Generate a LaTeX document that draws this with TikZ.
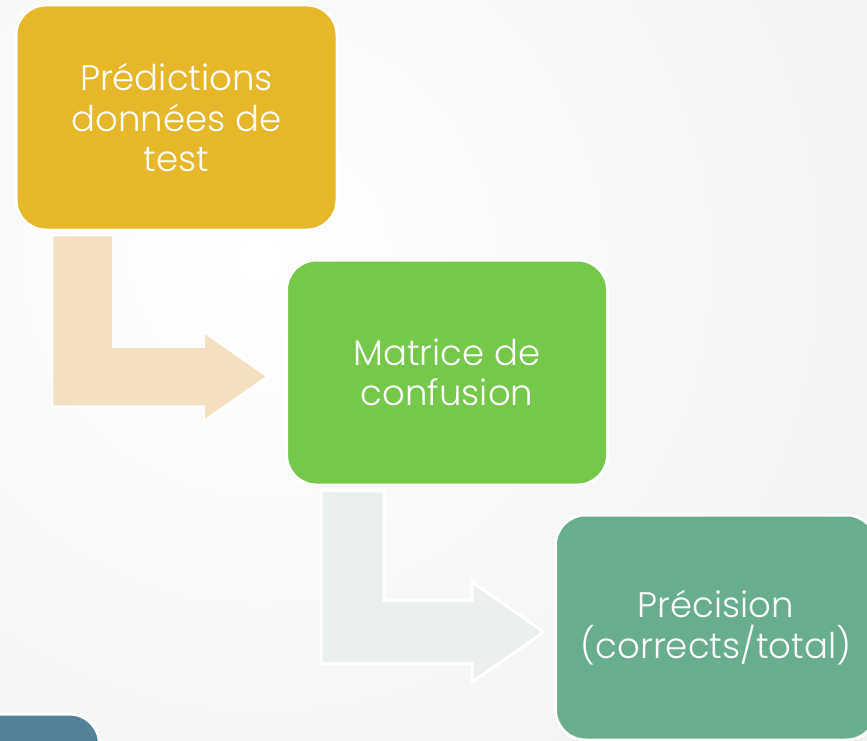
\documentclass[tikz,border=0pt]{standalone}
\usepackage{fontspec}
\setmainfont{Poppins Light}
\usetikzlibrary{calc}
\definecolor{cyellow}{HTML}{E6B729}
\definecolor{cgreen}{HTML}{76C84B}
\definecolor{cteal}{HTML}{67AD8E}
\definecolor{cblue}{HTML}{53819A}
\definecolor{carrowA}{HTML}{F4DFC0}
\definecolor{carrowB}{HTML}{EAF0ED}
\begin{document}
\begin{tikzpicture}[x=1pt,y=-1pt,
  box/.style={draw=white, line width=3pt, rounded corners=30pt, text=white,
    align=center, font=\fontsize{35.5}{40.5}\selectfont, inner sep=0pt,
    minimum width=321pt, minimum height=225pt},
  bentA/.style={fill=carrowA, draw=white, line width=1.5pt},
  bentB/.style={fill=carrowB, draw=white, line width=3pt}]
\useasboundingbox (0,0) rectangle (867,741);
\clip (0,0) rectangle (867,741);
\shade[inner color=white, outer color=black!11] (260,260) circle (1500);

\node[box, fill=cyellow] (a) at (176.5,117.5) {Prédictions\\données de\\test};
\node[box, fill=cgreen] (b) at (447,372.5) {Matrice de\\confusion};
\node[box, fill=cteal] (c) at (716,627.5) {Précision\\(corrects/total)};
\node[box, fill=cblue] (d) at (-61,826.5) {};

% bent arrow a -> b
\filldraw[bentA] let \p1=($(a.south west)+(38,4)$), \p2=($(b.west)+(-18,4)$) in
  (\x1,\y1) -- (\x1+60pt,\y1) -- (\x1+60pt,\y2+29.5pt) -- (\x2-63pt,\y2+29.5pt)
  -- (\x2-63pt,\y2+44pt) -- (\x2,\y2) -- (\x2-63pt,\y2-44pt) -- (\x2-63pt,\y2-29.5pt)
  -- (\x1,\y2-29.5pt) -- cycle;
% bent arrow b -> c
\filldraw[bentB] let \p1=($(b.south west)+(36,4)$), \p2=($(c.west)+(-10,4.5)$) in
  (\x1,\y1) -- (\x1+63pt,\y1) -- (\x1+63pt,\y2+31.5pt) -- (\x2-72pt,\y2+31.5pt)
  -- (\x2-72pt,\y2+50pt) -- (\x2,\y2) -- (\x2-72pt,\y2-50pt) -- (\x2-72pt,\y2-31.5pt)
  -- (\x1,\y2-31.5pt) -- cycle;
\end{tikzpicture}
\end{document}
